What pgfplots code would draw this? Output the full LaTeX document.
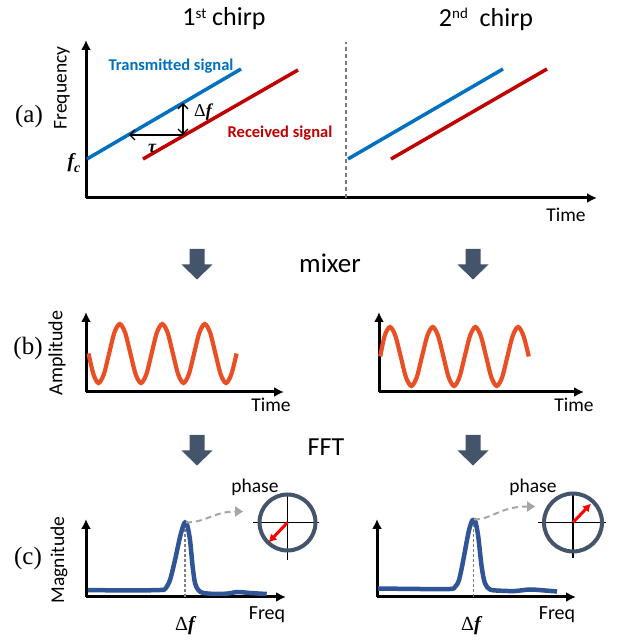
\documentclass[border=0pt]{standalone}
\usepackage{pgfplots}
\pgfplotsset{compat=1.18}
\usepackage{fontspec}
\setmainfont{Carlito}
\newfontfamily\timesf{Liberation Serif}
\usetikzlibrary{arrows.meta}
\definecolor{txblue}{RGB}{0,112,192}
\definecolor{rxred}{RGB}{192,0,0}
\definecolor{sinecol}{RGB}{234,78,36}
\definecolor{fftblue}{RGB}{47,85,151}
\definecolor{slate}{RGB}{68,84,106}
\definecolor{dashgray}{RGB}{166,166,166}
\definecolor{sepgray}{RGB}{118,118,118}
\newcommand\fs[1]{\fontsize{#1}{#1}\selectfont}
\pgfplotsset{panel/.style={x=1pt,y=1pt,axis lines=left,xtick=\empty,ytick=\empty,
  clip=false,anchor=south west,
  axis line style={line width=3pt,-{Latex[length=10pt,width=10pt]}}}}
\begin{document}
\begin{tikzpicture}[x=1pt,y=1pt]
\useasboundingbox (0,0) rectangle (616,640);
% ---------- panel (a)
\begin{axis}[panel,at={(86pt,442pt)},xmin=86,xmax=597,ymin=442,ymax=600]
\addplot[sepgray,line width=1.5pt,dash pattern=on 4pt off 3pt] coordinates {(346,442) (346,598)};
\addplot[txblue,line width=3.5pt] coordinates {(87,481) (241,571)};
\addplot[rxred,line width=3.5pt] coordinates {(143,481) (298,570)};
\addplot[txblue,line width=3.5pt] coordinates {(348,481) (503,571)};
\addplot[rxred,line width=3.5pt] coordinates {(391,481) (547,571)};
\draw[line width=1.3pt,-{Straight Barb[length=5pt,width=10pt]}] (183,505) -- (129,505);
\draw[line width=1.3pt,{Straight Barb[length=5pt,width=10pt]}-{Straight Barb[length=5pt,width=10pt]}] (183,505) -- (183,537);
\end{axis}
% ---------- panel (b)
\begin{axis}[panel,at={(86pt,248pt)},xmin=86,xmax=284,ymin=248,ymax=328]
\addplot[sinecol,line width=4.2pt,smooth] coordinates {
(88.5,286.5) (93.5,265.6) (98.5,257) (103.8,265.6) (109.1,286.5) (114.4,307.4) (119.75,316) (125.1,307.4)
(130.4,286.5) (135.7,265.6) (141.0,257) (146.3,265.6) (151.6,286.5) (156.9,307.4) (162.25,316) (167.6,307.4)
(172.9,286.5) (178.2,265.6) (183.5,257) (188.8,265.6) (194.1,286.5) (199.4,307.4) (204.75,316) (210.1,307.4)
(215.4,286.5) (220.7,265.6) (226.0,257) (231.3,265.6) (236.6,286.5)};
\end{axis}
\begin{axis}[panel,at={(379pt,248pt)},xmin=379,xmax=584,ymin=248,ymax=328]
\addplot[sinecol,line width=4.2pt,smooth] coordinates {
(380.2,283.5) (384.7,304.4) (390.0,313) (395.3,304.4) (400.7,283.5) (406.0,262.6) (411.35,254) (416.7,262.6)
(422.0,283.5) (427.4,304.4) (432.7,313) (438.0,304.4) (443.4,283.5) (448.7,262.6) (454.05,254) (459.4,262.6)
(464.7,283.5) (470.1,304.4) (475.4,313) (480.7,304.4) (486.1,283.5) (491.4,262.6) (496.75,254) (502.1,262.6)
(507.4,283.5) (512.8,304.4) (518.1,313) (523.4,304.4) (528.8,283.5)};
\end{axis}
% ---------- panel (c)
\begin{axis}[panel,at={(86pt,43pt)},xmin=86,xmax=286,ymin=43,ymax=121]
\addplot[gray,line width=1.2pt,dash pattern=on 3pt off 2pt] coordinates {(185,43) (185,117)};
\addplot[fftblue,line width=4.5pt,smooth,tension=0.5] coordinates {
(88,50) (130,49.5) (160,50) (165,51) (170,60) (175,80) (180,103) (183.3,114.5) (185,117.5) (187.3,114.5)
(190,100) (192.7,73) (195,57) (198.3,50) (203.3,47) (216.7,46) (228,46.5) (238,48) (250,47) (266.7,46)};
\draw[dashgray,line width=2pt,dash pattern=on 6pt off 4pt,-{Triangle[length=8pt,width=10pt]}]
  (186,117.5) .. controls (206,117.5) and (214,128.5) .. (243,128.5);
\end{axis}
\begin{axis}[panel,at={(377pt,43pt)},xmin=377,xmax=576,ymin=43,ymax=121]
\addplot[gray,line width=1.2pt,dash pattern=on 3pt off 2pt] coordinates {(473.3,43) (473.3,120)};
\addplot[fftblue,line width=4.5pt,smooth,tension=0.5] coordinates {
(378,51.5) (420,51) (450,51) (455,53) (459,60) (463.3,80) (468.3,106.7) (471.5,118) (473.3,120) (475.5,118)
(478.3,103) (481.7,73) (485,56.7) (490,50.5) (500,49.3) (515,49) (530,50.5) (545,49.5) (557,48.5)};
\draw[dashgray,line width=2pt,dash pattern=on 6pt off 4pt,-{Triangle[length=8pt,width=10pt]}]
  (474,120.5) .. controls (492,120.5) and (500,133.5) .. (535,133.5);
\end{axis}
% ---------- phase circles
\draw[line width=1.3pt] (253,117.5) -- (319,117.5) (287.5,147) -- (287.5,80);
\draw[slate,line width=4pt] (287.5,117.5) circle (28);
\draw[red,line width=3pt,-{Latex[length=8pt,width=9pt]}] (287.5,117.5) -- (268.5,97.5);
\draw[line width=1.3pt] (538,117.5) -- (606,117.5) (573,147) -- (573,81.5);
\draw[slate,line width=4pt] (573,117.5) circle (29);
\draw[red,line width=3pt,-{Latex[length=8pt,width=9pt]}] (573,117.5) -- (591,136.5);
% ---------- block arrows
\foreach \ax/\top in {197/391,473/391,197/205,473/205}{
  \fill[slate] (\ax-7.5,\top) -- (\ax+7.5,\top) -- (\ax+7.5,\top-15.5) -- (\ax+15.5,\top-15.5)
     -- (\ax,\top-30.5) -- (\ax-15.5,\top-15.5) -- (\ax-7.5,\top-15.5) -- cycle;}
% ---------- texts
\node[inner sep=0] at (224,621) {\fs{26}1\raisebox{0.3em}{\fs{15}st} chirp};
\node[inner sep=0] at (486,621) {\fs{26}2\raisebox{0.3em}{\fs{15}nd}\ \ chirp};
\node[inner sep=0,txblue] at (171,574) {\fs{16.5}\bfseries Transmitted signal};
\node[inner sep=0,rxred] at (280,507) {\fs{16.5}\bfseries Received signal};
\node[inner sep=0,rotate=90] at (62,552) {\fs{19.5}Frequency};
\node[inner sep=0] at (29,524) {\timesf\fs{25}(a)};
\node[inner sep=0] at (74,477) {\timesf\fs{20}\bfseries\itshape f\raisebox{-0.25em}{\fs{14}c}};
\node[inner sep=0] at (203,528) {\timesf\fs{18}Δ\bfseries\itshape f};
\node[inner sep=0] at (152,492) {\timesf\fs{18}\bfseries\itshape τ};
\node[inner sep=0] at (566,425) {\fs{19.5}Time};
\node[inner sep=0] at (330,377) {\fs{27}mixer};
\node[inner sep=0] at (28,292) {\timesf\fs{25}(b)};
\node[inner sep=0,rotate=90] at (57,287) {\fs{20}Amplitude};
\node[inner sep=0] at (271,235) {\fs{19.5}Time};
\node[inner sep=0] at (574,235) {\fs{19.5}Time};
\node[inner sep=0] at (326,193) {\fs{26}FFT};
\node[inner sep=0] at (255,153) {\fs{19.5}phase};
\node[inner sep=0] at (533,153) {\fs{19.5}phase};
\node[inner sep=0] at (28,82) {\timesf\fs{25}(c)};
\node[inner sep=0,rotate=90] at (59,80) {\fs{19.5}Magnitude};
\node[inner sep=0] at (267,25) {\fs{20}Freq};
\node[inner sep=0] at (557,25) {\fs{20}Freq};
\node[inner sep=0] at (185,14) {\timesf\fs{20}Δ\bfseries\itshape f};
\node[inner sep=0] at (471,14) {\timesf\fs{20}Δ\bfseries\itshape f};
\end{tikzpicture}
\end{document}
